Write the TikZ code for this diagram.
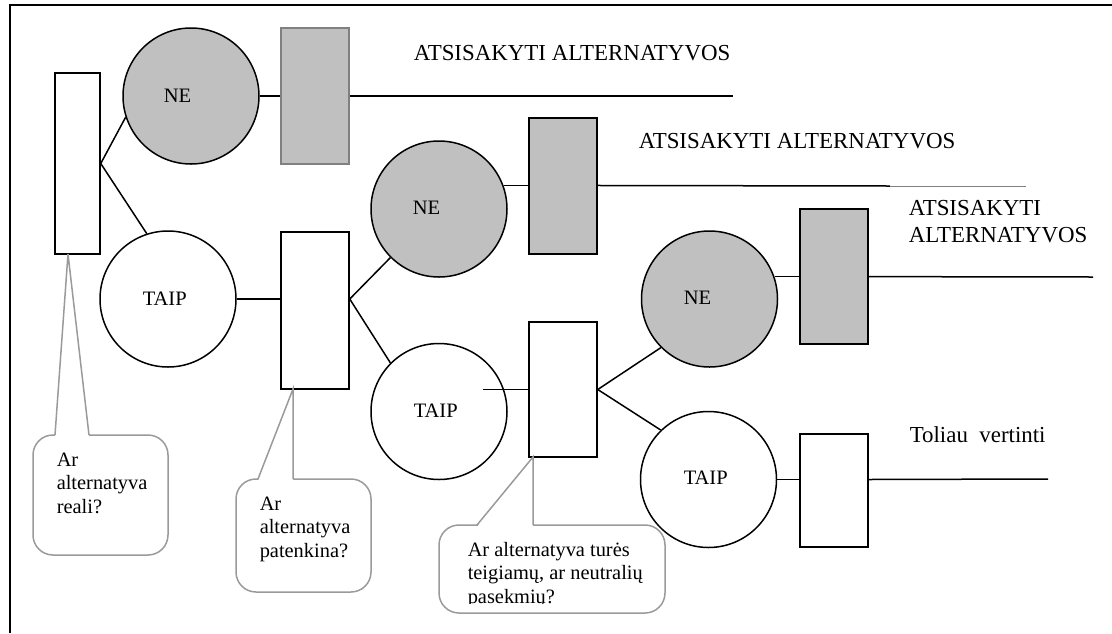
\documentclass[tikz,border=0pt]{standalone}
\usepackage{fontspec}
\setmainfont{Liberation Serif}
\definecolor{shade}{HTML}{C0C0C0}
\definecolor{calloutgray}{HTML}{9A9A9A}
\begin{document}
\begin{tikzpicture}[x=1pt,y=-1pt,line width=1.5pt,
  stage/.style={draw=black,rectangle,inner sep=0pt,minimum width=68pt},
  endbox/.style={stage,fill=shade},
  answer/.style={draw=black,circle,inner sep=0pt,minimum size=136pt},
  noanswer/.style={answer,fill=shade},
  circlabel/.style={font=\fontsize{20.5}{23}\selectfont,inner sep=0pt,anchor=base west},
  biglabel/.style={font=\fontsize{22.9}{27}\selectfont,inner sep=0pt,anchor=base west,align=left},
  question/.style={draw=calloutgray,rounded corners=20pt,inner sep=0pt},
  qtext/.style={font=\fontsize{20.4}{23.5}\selectfont,inner sep=0pt,anchor=base west,align=left},
  pointer/.style={draw=calloutgray,line join=miter}]
\useasboundingbox (0,0) rectangle (1112,633);

% frame
\draw[line width=1.6pt] (10,633) -- (10,5) -- (1112,5);

% decision boxes
\node[stage,minimum width=45pt,minimum height=181pt] (r1) at (77.5,163.5) {};
\node[stage,minimum height=157pt] (r2) at (315,310.5) {};
\node[stage,minimum height=135pt] (r3) at (563,389.5) {};
\node[stage,minimum height=113pt] (r4) at (834,490.5) {};

% rejection boxes
\node[endbox,draw=gray,minimum height=136pt] (g1) at (315,96) {};
\node[endbox,minimum height=136pt] (g2) at (563,186) {};
\node[endbox,minimum height=135pt] (g3) at (834,276.5) {};

% answers
\node[noanswer] (ne1) at (191,96) {};
\node[answer] (taip1) at (168,299) {};
\node[noanswer] (ne2) at (439,209) {};
\node[answer] (taip2) at (439,411.5) {};
\node[noanswer] (ne3) at (709.5,299) {};
\node[answer] (taip3) at (708.5,479.5) {};

\node[circlabel] (lne1) at (163,102) {NE};
\node[circlabel] (lne2) at (412,214) {NE};
\node[circlabel] (lne3) at (683,304) {NE};
\node[circlabel] (ltaip1) at (142,305) {TAIP};
\node[circlabel] (ltaip2) at (413,417) {TAIP};
\node[circlabel] (ltaip3) at (683,484) {TAIP};

% free ends of the outcome lines
\coordinate (e1) at (733,96);
\coordinate (e2) at (890,186);
\coordinate (e2b) at (1026,186);
\coordinate (e3) at (1093,277);
\coordinate (e4) at (1048,479);
\coordinate (s3) at (483,389.5);

% branches
\draw (r1.east) -- (ne1.198);
\draw (r1.east) -- (taip1.108);
\draw (taip1.east) -- (taip1.east -| r2.west);
\draw (taip1.east -| r2.east) -- (ne2.225);
\draw (taip1.east -| r2.east) -- (taip2.135);
\draw (s3) -- (r3.west);
\draw (r3.east) -- (ne3.225);
\draw (r3.east) -- (taip3.134);

% outcome lines
\draw (ne1.east) -- (g1.west);
\draw (g1.east) -- (e1);
\draw (ne2.20) -- (ne2.20 -| g2.west);
\draw (ne2.20 -| g2.east) -- (e2);
\draw[line width=0.8pt,gray] (e2) -- (e2b);
\draw (ne3.19) -- (ne3.19 -| g3.west);
\draw (ne3.19 -| g3.east) -- (e3);
\draw (taip3.east) -- (taip3.east -| r4.west);
\draw (taip3.east -| r4.east) -- (e4);

% outcome texts (multi-line nodes sit on their last baseline)
\node[biglabel] (t1) at (413,60) {ATSISAKYTI ALTERNATYVOS};
\node[biglabel] (t2) at (638,148) {ATSISAKYTI ALTERNATYVOS};
\node[biglabel] (t3) at (908,242) {ATSISAKYTI\\ALTERNATYVOS};
\node[biglabel] (t4) at (909,442) {Toliau\ \ vertinti};

% questions
\node[question,minimum width=135pt,minimum height=120pt] (q1) at (100.5,495) {};
\node[question,minimum width=135pt,minimum height=113pt] (q2) at (303.5,535.5) {};
\node[question,minimum width=226pt,minimum height=88pt] (q3) at (552,569) {};

\coordinate (p1) at (68,254);
\coordinate (p2) at (293,389);
\coordinate (p3) at (533,457);

\fill[white] (55,437) -- (p1) -- (89,437) -- cycle;
\draw[pointer] (55,435) -- (p1) -- (89,435);
\fill[white] (258,481) -- (p2) -- (293,481) -- cycle;
\draw[pointer] (258,479) -- (p2) -- (293,479);
\fill[white] (477,527) -- (p3) -- (533,527) -- cycle;
\draw[pointer] (477,525) -- (p3) -- (533,525);

\node[qtext] (a1) at (56,513) {Ar\\alternatyva\\reali?};
\node[qtext] (a2) at (259,557) {Ar\\alternatyva\\patenkina?};
\begin{scope}
  \clip (q3.north west) rectangle ([yshift=10pt]q3.south east);
  \node[qtext] (a3) at (467,603) {Ar alternatyva turės\\teigiamų, ar neutralių\\pasekmių?};
\end{scope}
\end{tikzpicture}
\end{document}
